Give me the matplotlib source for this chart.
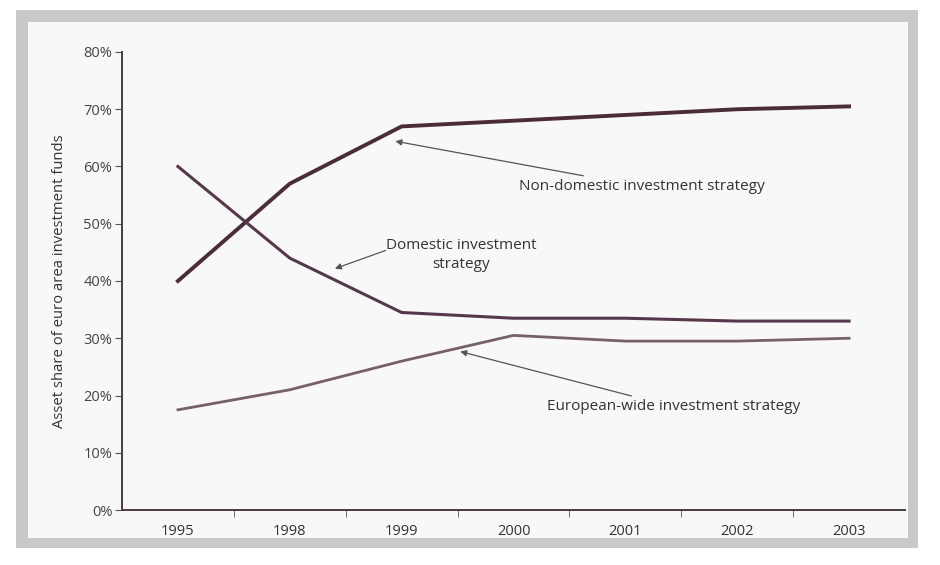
import matplotlib
matplotlib.use("Agg")
import matplotlib.pyplot as plt
from matplotlib.patches import Rectangle
import numpy as np

years = ["1995", "1998", "1999", "2000", "2001", "2002", "2003"]
non_domestic = [40, 57, 67, 68, 69, 70, 70.5]
domestic = [60, 44, 34.5, 33.5, 33.5, 33, 33]
european_wide = [17.5, 21, 26, 30.5, 29.5, 29.5, 30]
y_ticks = [0, 10, 20, 30, 40, 50, 60, 70, 80]
y_tick_labels = ["0%", "10%", "20%", "30%", "40%", "50%", "60%", "70%", "80%"]

plt.rcParams['font.family'] = ['Open Sans', 'DejaVu Sans']

fig = plt.figure(figsize=(9.4, 5.65), dpi=100)
fig.patch.set_facecolor("white")

# scanned frame as background axes
bg = fig.add_axes([0, 0, 1, 1], zorder=-5)
bg.set_xlim(0, 940)
bg.set_ylim(565, 0)
bg.axis("off")
bg.add_patch(Rectangle((16, 10), 902, 538, facecolor="#c9c9c9", edgecolor="none"))
bg.add_patch(Rectangle((28, 22), 880, 516, facecolor="#f8f8f8", edgecolor="none"))

ax = fig.add_axes([122/940, 1-510/565, (905-122)/940, (510-52)/565], zorder=1)
ax.set_facecolor("none")

x = np.arange(len(years))
ax.plot(x, non_domestic, color="#4b2c3a", lw=2.8)
ax.plot(x, domestic, color="#56384a", lw=2.2)
ax.plot(x, european_wide, color="#76606a", lw=2.0)

ax.set_xlim(-0.5, len(years) - 0.5)
ax.set_ylim(0, 80)
ax.set_yticks(y_ticks)
ax.set_yticklabels(y_tick_labels, fontsize=10.5, color="#444444")
ax.set_xticks(x)
ax.set_xticklabels(years, fontsize=10.5, color="#333333")
ax.tick_params(axis="x", length=0, pad=10)
ax.set_xticks(np.arange(len(years) - 1) + 0.5, minor=True)
ax.tick_params(axis="x", which="minor", length=5, direction="out", color="#555555")
ax.tick_params(axis="y", length=5, direction="out", color="#555555", pad=2)
for s in ["top", "right"]:
    ax.spines[s].set_visible(False)
for s in ["left", "bottom"]:
    ax.spines[s].set_color("#4a3a44")
    ax.spines[s].set_linewidth(1.4)

ax.set_ylabel("Asset share of euro area investment funds", fontsize=10.7, color="#333333", labelpad=12)

arrow = dict(arrowstyle="-|>", color="#555555", lw=0.9, mutation_scale=9)
ax.annotate("Non-domestic investment strategy", xy=(1.92, 64.5), xytext=(3.05, 56.5),
            fontsize=11, color="#333333", ha="left", va="center", arrowprops=arrow)
ax.annotate("Domestic investment\nstrategy", xy=(1.38, 42), xytext=(2.53, 44.5),
            fontsize=11, color="#333333", ha="center", va="center", linespacing=1.4)
ax.annotate("", xy=(1.38, 42), xytext=(1.88, 45.5), arrowprops=arrow)
ax.annotate("European-wide investment strategy", xy=(2.5, 27.8), xytext=(3.3, 18),
            fontsize=11, color="#333333", ha="left", va="center", arrowprops=arrow)

fig.savefig("out.png", dpi=100)
